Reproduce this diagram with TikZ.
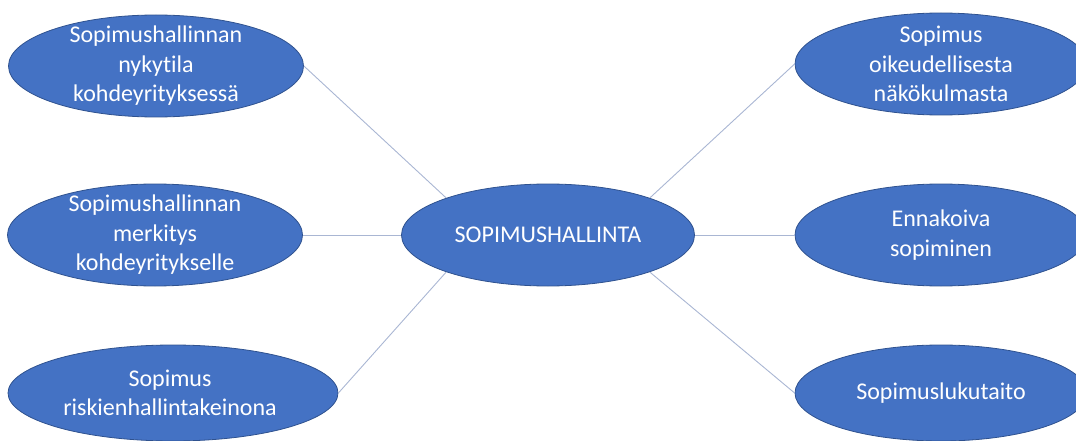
\documentclass[tikz,border=0pt]{standalone}
\usepackage{fontspec}
\setmainfont{Carlito}[Ligatures={NoCommon}]
\usetikzlibrary{shapes.geometric}
\definecolor{blobfill}{HTML}{4472C4}
\definecolor{blobline}{HTML}{2F528F}
\definecolor{linkcol}{HTML}{A9B6D3}
\tikzset{
  blob/.style={ellipse, fill=blobfill, draw=blobline, line width=0.8pt, inner sep=0pt, minimum width=#1},
  blob/.default=296pt,
  blobtext/.style={text=white, align=center, font=\fontsize{24}{29.5}\selectfont},
  link/.style={draw=linkcol, line width=0.9pt}
}
\begin{document}
\begin{tikzpicture}[x=1pt,y=-1pt]
\useasboundingbox (0,0) rectangle (1076,441);
\clip (0,0) rectangle (1076,441);
% ellipses
\node[blob=295pt, minimum height=102pt] (lt) at (156,66) {};
\node[blob=295pt, minimum height=102pt] (lm) at (155,235) {};
\node[blob=330pt, minimum height=96pt] (lb) at (173,393) {};
\node[blob=293pt, minimum height=102pt] (c) at (548,235) {};
\node[blob=292pt, minimum height=102pt] (rt) at (941,64) {};
\node[blob=292pt, minimum height=102pt] (rm) at (941,235) {};
\node[blob=292pt, minimum height=96pt] (rb) at (941,393) {};
% connectors
\draw[link] (lt.east) -- (c.160);
\draw[link] (lm.east) -- (c.west);
\draw[link] (lb.east) -- (c.200);
\draw[link] (rt.west) -- (c.20);
\draw[link] (rm.west) -- (c.east);
\draw[link] (rb.west) -- (c.-20);
% texts
\node[blobtext] (tlt) at (lt.center) {Sopimushallinnan\\nykytila\\kohdeyrityksessä};
\node[blobtext] (tlm) at (lm.center) {Sopimushallinnan\\merkitys\\kohdeyritykselle};
\node[blobtext] (tlb) at (170,393) {Sopimus\\riskienhallintakeinona};
\node[blobtext] (tc) at (c.center) {SOPIMUSHALLINTA};
\node[blobtext] (trt) at (rt.center) {Sopimus\\oikeudellisesta\\näkökulmasta};
\node[blobtext] (trm) at (rm.center) {Ennakoiva\\sopiminen};
\node[blobtext] (trb) at (rb.center) {Sopimuslukutaito};
\end{tikzpicture}
\end{document}
